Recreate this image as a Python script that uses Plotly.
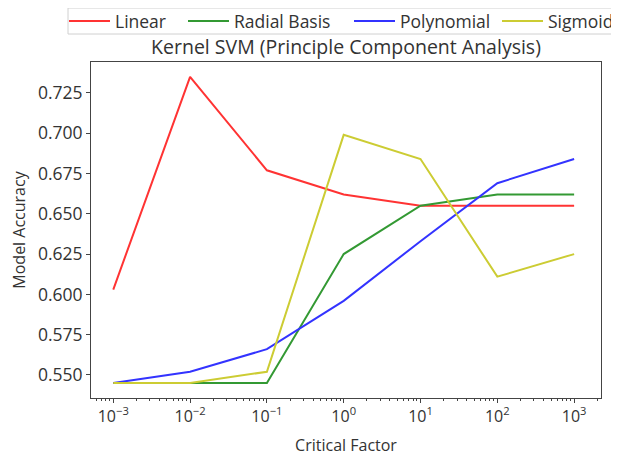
import plotly.graph_objects as go

x_vals = [0.001, 0.01, 0.1, 1, 10, 100, 1000]
linear = [0.603, 0.735, 0.677, 0.662, 0.655, 0.655, 0.655]
radial = [0.545, 0.545, 0.545, 0.625, 0.655, 0.662, 0.662]
poly = [0.545, 0.552, 0.566, 0.596, 0.633, 0.669, 0.684]
sigmoid = [0.545, 0.545, 0.552, 0.699, 0.684, 0.611, 0.625]

names = ["Linear", "Radial Basis", "Polynomial", "Sigmoid"]
colors = ["rgb(255,51,51)", "rgb(51,153,51)", "rgb(51,51,255)", "rgb(204,204,51)"]
series = [linear, radial, poly, sigmoid]

x_tickvals = [0.001, 0.01, 0.1, 1, 10, 100, 1000]
x_ticktext = ["10<sup>−3</sup>", "10<sup>−2</sup>", "10<sup>−1</sup>", "10<sup>0</sup>",
              "10<sup>1</sup>", "10<sup>2</sup>", "10<sup>3</sup>"]
y_tickvals = [0.550, 0.575, 0.600, 0.625, 0.650, 0.675, 0.700, 0.725]

# page body has an 8px margin: work in screenshot pixels, shift by OFF
OFF = 8
W, H = 619 - OFF, 457 - OFF
L, R, T, B = 91 - OFF, 601 - OFF, 62 - OFF, 398 - OFF
legend_line_x = [71, 190, 356, 504]  # screenshot x where each legend line starts

fig = go.Figure()
legend_ids = ["legend", "legend2", "legend3", "legend4"]
for n, c, s, lid in zip(names, colors, series, legend_ids):
    fig.add_trace(go.Scatter(x=x_vals, y=s, mode="lines", name=n, legend=lid,
                             line=dict(color=c, width=2)))

legend_common = dict(orientation="h", xref="container", yref="container",
                     yanchor="middle", xanchor="left", borderwidth=0, itemwidth=41,
                     bgcolor="rgba(0,0,0,0)", font=dict(size=17.5, color="#333"))
layout_legends = {}
for lid, lx in zip(legend_ids, legend_line_x):
    layout_legends[lid] = dict(legend_common, x=(lx - OFF - 7) / W, y=1 - (21 - OFF) / H)

fig.update_layout(
    width=W, height=H,
    margin=dict(l=L, r=W - R, t=T, b=H - B, autoexpand=False),
    paper_bgcolor="white", plot_bgcolor="white",
    font=dict(family="Open Sans", size=16, color="#333"),
    title=dict(text="Kernel SVM (Principle Component Analysis)", x=(L + R) / 2 / W,
               xanchor="center", y=1 - (47 - OFF) / H, yanchor="middle",
               font=dict(size=19.5, color="#333")),
    showlegend=True,
    **layout_legends,
)
# legend frame
fig.add_shape(type="rect", xref="paper", yref="paper",
              x0=(68 - OFF - L) / (R - L), x1=(640 - OFF - L) / (R - L),
              y0=(B - (34 - OFF)) / (B - T), y1=(B - (8 - OFF)) / (B - T),
              line=dict(color="#d0d0d0", width=1), fillcolor="rgba(0,0,0,0)", layer="above")

fig.update_xaxes(type="log", range=[-3.29, 3.35], tickvals=x_tickvals, ticktext=x_ticktext,
                 ticks="outside", ticklen=4, tickcolor="#444", showgrid=False, automargin=False,
                 showline=True, linecolor="#444", linewidth=1, mirror=True,
                 tickfont=dict(size=16),
                 title=dict(text="Critical Factor", standoff=13, font=dict(size=16)),
                 minor=dict(ticks="outside", ticklen=2, tickcolor="#444", dtick="D1"))
fig.update_yaxes(range=[0.5357, 0.7442], tickvals=y_tickvals, tickformat=".3f",
                 ticks="outside", ticklen=4, tickcolor="#444", showgrid=False, zeroline=False,
                 showline=True, linecolor="#444", linewidth=1, mirror=True, automargin=False,
                 tickfont=dict(size=17.5),
                 title=dict(text="Model Accuracy", standoff=8, font=dict(size=16)))

fig.write_html("out.html")
